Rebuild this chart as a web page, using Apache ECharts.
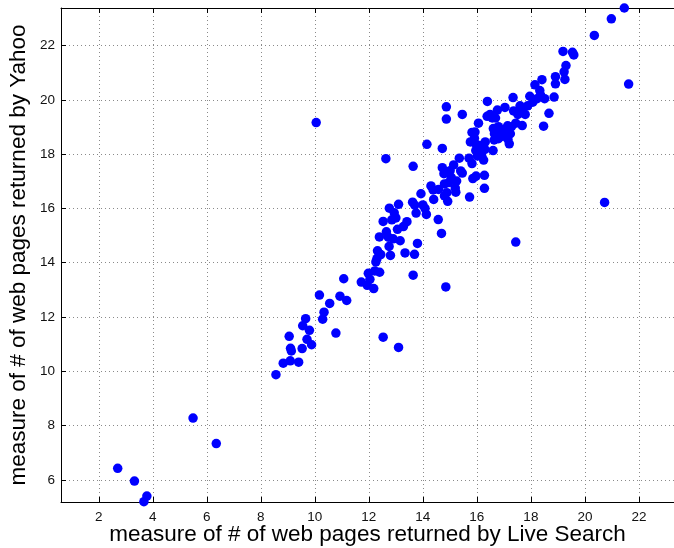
<!DOCTYPE html>
<html>
<head>
<meta charset="utf-8">
<script src="https://cdn.jsdelivr.net/npm/echarts@6/dist/echarts.min.js"></script>
<style>
  html, body { margin: 0; padding: 0; background: #fff; }
  #figure0 { width: 674px; height: 548px; }
</style>
</head>
<body>
<div id="figure0"></div>
<script>
var liveSearch = [2.70, 3.32, 3.78, 3.67, 5.49, 6.35, 8.56, 8.83, 9.09, 9.40, 9.05, 9.10, 9.13, 9.53, 9.55, 9.66, 9.71, 9.80, 9.88,
    10.17, 10.29, 10.34, 10.55, 10.78, 10.93, 11.07, 11.18, 10.05, 11.72, 11.94, 11.98, 12.04, 12.18, 12.22, 12.40, 12.26, 12.30,
    12.32, 12.44, 12.39, 12.53, 12.53, 13.10, 12.63, 12.65, 12.72, 12.76, 12.75, 12.80, 12.85, 12.90, 12.94, 13.00, 13.06, 13.10,
    13.16, 13.28, 13.34, 13.41, 13.64, 13.64, 13.62, 13.70, 13.69, 13.75, 13.80, 13.93, 14.00, 14.08, 14.13, 14.15, 14.30, 14.38,
    14.40, 14.57, 14.58, 14.69, 14.72, 14.72, 14.78, 14.80, 14.80, 14.85, 14.87, 14.87, 14.89, 14.92, 14.96, 15.01, 15.05, 15.14,
    15.20, 15.22, 15.25, 15.35, 15.40, 15.46, 15.46, 15.71, 15.73, 15.76, 15.82, 15.82, 15.85, 15.93, 15.91, 15.96, 15.97, 16.06,
    16.07, 16.11, 16.02, 16.17, 16.25, 16.28, 16.28, 16.30, 16.31, 16.38, 16.39, 16.49, 16.57, 16.60, 16.61, 16.65, 16.64, 16.69,
    16.76, 16.80, 16.80, 16.88, 16.96, 17.04, 17.09, 17.15, 17.20, 17.28, 17.24, 17.34, 17.36, 17.44, 17.44, 17.52, 17.60, 17.68,
    17.79, 17.88, 17.96, 18.07, 18.15, 18.23, 18.33, 18.36, 18.41, 18.47, 18.51, 18.67, 18.86, 18.91, 18.91, 19.19, 19.23, 19.26,
    19.30, 19.54, 19.59, 20.35, 20.73, 20.98, 21.46, 21.62, 17.14, 17.70, 16.76, 15.97, 16.18];
var yahoo = [6.43, 5.96, 5.41, 5.20, 8.28, 7.34, 9.88, 10.30, 10.39, 10.34, 11.29, 10.85, 10.75, 10.84, 11.68, 11.94, 11.18, 11.51, 10.98,
    12.81, 11.92, 12.18, 12.50, 11.41, 12.77, 13.41, 12.61, 19.16, 13.29, 13.17, 13.61, 13.39, 13.05, 13.70, 13.65, 14.03, 14.15,
    14.44, 14.30, 14.95, 15.52, 11.26, 10.88, 17.83, 15.14, 14.94, 16.01, 14.60, 14.27, 15.58, 14.88, 15.84, 15.65, 15.23, 16.15,
    14.81, 15.33, 14.36, 15.51, 17.55, 13.54, 16.23, 16.12, 14.31, 15.83, 14.71, 16.54, 16.13, 16.00, 15.78, 18.36, 16.83, 16.68,
    16.33, 15.59, 16.70, 15.08, 18.21, 17.50, 17.28, 16.90, 16.46, 13.11, 19.74, 19.29, 16.58, 16.26, 16.95, 17.39, 17.14, 17.60,
    16.75, 16.60, 17.01, 17.85, 17.38, 19.46, 17.30, 17.85, 16.42, 18.45, 17.65, 18.80, 17.10, 18.81, 18.58, 18.13, 17.19, 19.14,
    18.15, 18.32, 17.93, 17.91, 17.78, 17.22, 16.74, 18.17, 18.45, 19.39, 19.94, 19.46, 19.33, 18.13, 18.94, 18.75, 18.52, 19.33,
    19.62, 19.01, 18.57, 18.81, 18.66, 19.72, 18.94, 18.55, 18.38, 19.01, 18.75, 20.08, 19.59, 14.76, 19.14, 19.46, 19.78, 19.05,
    19.46, 19.78, 20.13, 19.91, 20.55, 20.04, 20.34, 20.17, 20.74, 19.03, 20.04, 19.50, 20.10, 20.59, 20.85, 21.78, 21.03, 20.75,
    21.26, 21.75, 21.65, 22.37, 16.22, 22.98, 23.38, 20.58, 19.04, 19.65, 18.85, 18.36, 17.93];
var xTicks = [2, 4, 6, 8, 10, 12, 14, 16, 18, 20, 22];
var yTicks = [6, 8, 10, 12, 14, 16, 18, 20, 22];

var points = [];
for (var i = 0; i < liveSearch.length; i++) {
    points.push([liveSearch[i], yahoo[i]]);
}

var figure0 = echarts.init(document.getElementById('figure0'));
var font = 'Liberation Sans, Arial, Helvetica, sans-serif';
var gridLine = {show: true, lineStyle: {color: '#8a8a8a', width: 1, type: [1, 3]}};
var option = {
    animation: false,
    grid: {left: 61, right: 0, top: 8, bottom: 46, outerBoundsMode: 'none', containLabel: false},
    xAxis: [{
        type: 'value',
        min: 0.6,
        max: 23.3,
        name: 'measure of # of web pages returned by Live Search',
        nameLocation: 'middle',
        nameGap: 21,
        nameMoveOverlap: false,
        nameTextStyle: {fontFamily: font, fontSize: 22.5, color: '#000'},
        axisLine: {show: true, lineStyle: {color: '#000', width: 1}},
        axisTick: {show: true, inside: true, length: 5, customValues: xTicks, lineStyle: {color: '#000'}},
        axisLabel: {customValues: xTicks, margin: 8, fontFamily: font, fontSize: 13.5, color: '#111'},
        splitLine: gridLine
    }, {
        type: 'value',
        position: 'top',
        min: 0.6,
        max: 23.3,
        axisLine: {show: true, onZero: false, lineStyle: {color: '#000', width: 1}},
        axisTick: {show: true, inside: true, length: 5, customValues: xTicks, lineStyle: {color: '#000'}},
        axisLabel: {show: false},
        splitLine: {show: false}
    }],
    yAxis: {
        type: 'value',
        min: 5.19,
        max: 23.38,
        name: 'measure of # of web pages returned by Yahoo',
        nameLocation: 'middle',
        nameGap: 31,
        nameMoveOverlap: false,
        nameTextStyle: {fontFamily: font, fontSize: 22.5, color: '#000'},
        axisLine: {show: true, lineStyle: {color: '#000', width: 1}},
        axisTick: {show: true, inside: true, length: 5, customValues: yTicks, lineStyle: {color: '#000'}},
        axisLabel: {customValues: yTicks, margin: 6, fontFamily: font, fontSize: 13.5, color: '#111'},
        splitLine: gridLine
    },
    series: [{
        type: 'scatter',
        data: points,
        symbol: 'circle',
        symbolSize: 9.5,
        clip: false,
        itemStyle: {color: '#0000ff', opacity: 1}
    }]
};
figure0.setOption(option);
</script>
</body>
</html>
